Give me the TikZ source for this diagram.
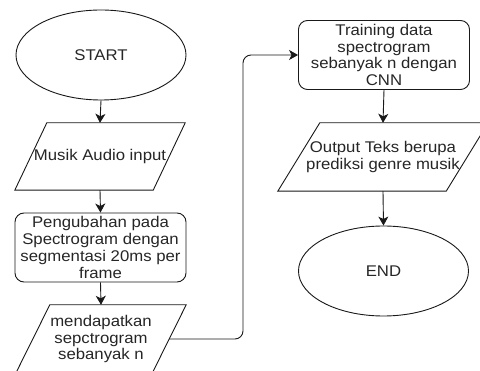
\documentclass[tikz,border=0pt]{standalone}
\usepackage{fontspec}
\setmainfont{Liberation Sans}[FakeStretch=1.08]
\usetikzlibrary{shapes.geometric,arrows.meta,calc}
\begin{document}
\begin{tikzpicture}[x=1pt,y=-1pt,
  every node/.style={font=\fontsize{15.5}{16.7}\selectfont, text=black!85, align=center},
  ln/.style={line width=0.9pt, draw=black!90},
  arr/.style={ln, -{Stealth[length=9pt,width=10pt,inset=2.5pt]}},
  term/.style={ellipse, draw, ln, minimum width=170pt, minimum height=90pt, inner sep=0pt},
  proc/.style={rectangle, draw, ln, rounded corners=9pt, minimum width=171pt, minimum height=69pt, inner sep=0pt},
  io/.style={rectangle, minimum width=#1, minimum height=68pt, inner sep=0pt}
]
\useasboundingbox (0,0) rectangle (480,371);
\fill[white] (0,0) rectangle (480,371);
\newcommand\iobox[2]{\draw[ln] ([xshift=#2]#1.north west) -- (#1.north east) -- ([xshift=-#2]#1.south east) -- (#1.south west) -- cycle;}

\node[term] (start) at (101,55) {START};
\node[io=170pt, minimum height=67pt] (in) at (100,156.5) {Musik Audio input};
\iobox{in}{32pt}
\node[proc] (seg) at (100.5,247.5) {Pengubahan pada\\Spectrogram dengan\\segmentasi 20ms per\\frame};
\node[io=170pt] (spec) at (101,339) {mendapatkan\\sepctrogram\\sebanyak n};
\iobox{spec}{34pt}

\node[proc] (train) at (384,55) {Training data\\spectrogram\\sebanyak n dengan\\CNN};
\node[io=210pt] (out) at (383,157) {Output Teks berupa\\prediksi genre musik};
\iobox{out}{42pt}
\node[term] (fin) at (383.5,271) {END};

\draw[arr] (start.south) -- (in.north);
\draw[arr] (in.south) -- (seg.north);
\draw[arr] (seg.south) -- (spec.north);
\coordinate (sr) at ($(spec.north east)!0.5!([xshift=-34pt]spec.south east)$);
\coordinate (bend) at (243,339);
\draw[arr, rounded corners=8pt] (sr) -- (bend) |- (train.west);
\draw[arr] (train.south) -- (out.north);
\draw[arr] (out.south) -- (fin.north);
\end{tikzpicture}
\end{document}
